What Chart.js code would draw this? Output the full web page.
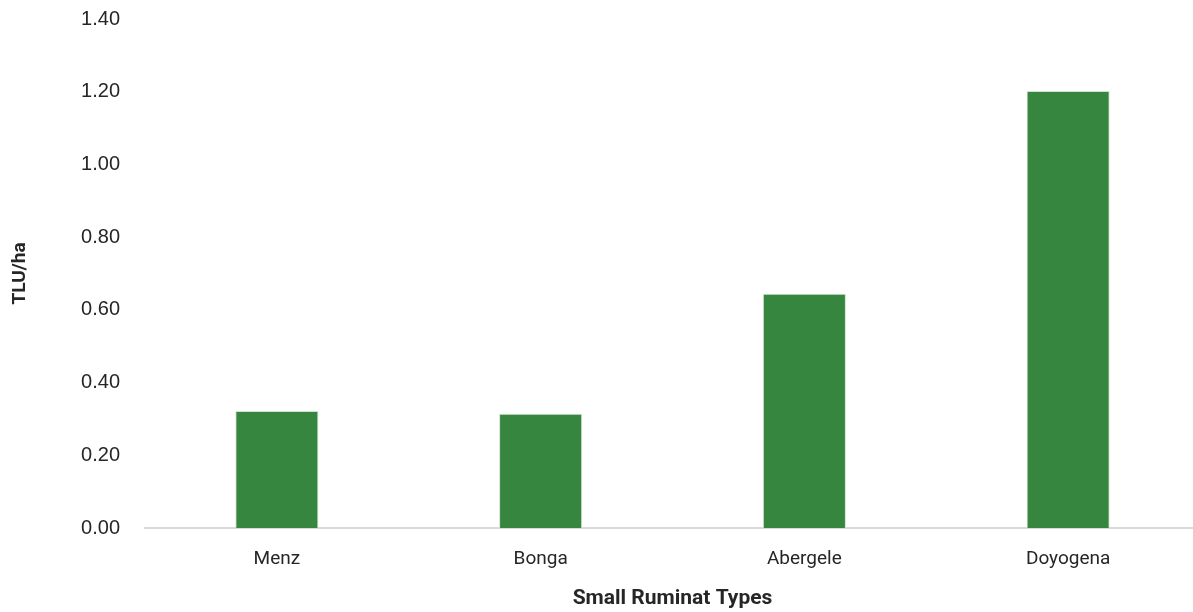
<!DOCTYPE html>
<html>
<head>
<meta charset="utf-8">
<title>Small Ruminant Stocking Rate</title>
<script src="https://cdn.jsdelivr.net/npm/chart.js@4.4.1/dist/chart.umd.min.js"></script>
<style>
  html, body { margin: 0; padding: 0; background: #ffffff; overflow: hidden; }
  #wrap { width: 1200px; height: 612px; position: relative; }
</style>
</head>
<body>
<div id="wrap"><canvas id="chart"></canvas></div>
<script>
// Stocking rate (TLU/ha) per small ruminant type
const categories = ['Menz', 'Bonga', 'Abergele', 'Doyogena'];
const tluPerHa = [0.322, 0.314, 0.644, 1.202];
const yTicks = [0, 0.2, 0.4, 0.6, 0.8, 1.0, 1.2, 1.4];

const tickFont = { family: "'Liberation Sans', 'DejaVu Sans', sans-serif", size: 20 };
const labelFont = { family: "'Liberation Sans Narrow', 'Roboto', sans-serif", size: 19 };
const titleFont = { family: "'Liberation Sans Narrow', 'Roboto', sans-serif", size: 21, weight: 'bold' };

new Chart(document.getElementById('chart'), {
  type: 'bar',
  data: {
    labels: categories,
    datasets: [{
      data: tluPerHa,
      backgroundColor: '#37863f',
      borderColor: '#cfe3cf',
      borderWidth: 1,
      barPercentage: 0.315,
      categoryPercentage: 1.0
    }]
  },
  options: {
    responsive: true,
    maintainAspectRatio: false,
    animation: false,
    layout: { padding: { top: 19, right: 0, bottom: 0, left: 0 } },
    plugins: {
      legend: { display: false },
      tooltip: { enabled: false }
    },
    scales: {
      x: {
        grid: { display: false, drawTicks: false },
        border: { display: true, color: '#d9d9d9', width: 2 },
        ticks: { color: '#262626', font: labelFont, padding: 20 },
        title: {
          display: true,
          text: 'Small Ruminat Types',
          color: '#262626',
          font: titleFont,
          padding: { top: 0, bottom: 1 }
        },
        afterFit: (scale) => { scale.height = 84; }
      },
      y: {
        min: 0,
        max: 1.4,
        afterBuildTicks: (scale) => { scale.ticks = yTicks.map(v => ({ value: v })); },
        grid: { display: false, drawTicks: false },
        border: { display: false },
        ticks: {
          color: '#262626',
          font: tickFont,
          padding: 25,
          callback: (v) => Number(v).toFixed(2)
        },
        title: {
          display: true,
          text: 'TLU/ha',
          color: '#262626',
          font: { family: "'Liberation Sans Narrow', 'Roboto', sans-serif", size: 19, weight: 'bold' },
          padding: { top: 9, bottom: 0 }
        },
        afterFit: (scale) => {
          scale.width = 145;
          scale.paddingTop = 0;
          scale.paddingBottom = 0;
        }
      }
    }
  }
});
</script>
</body>
</html>
